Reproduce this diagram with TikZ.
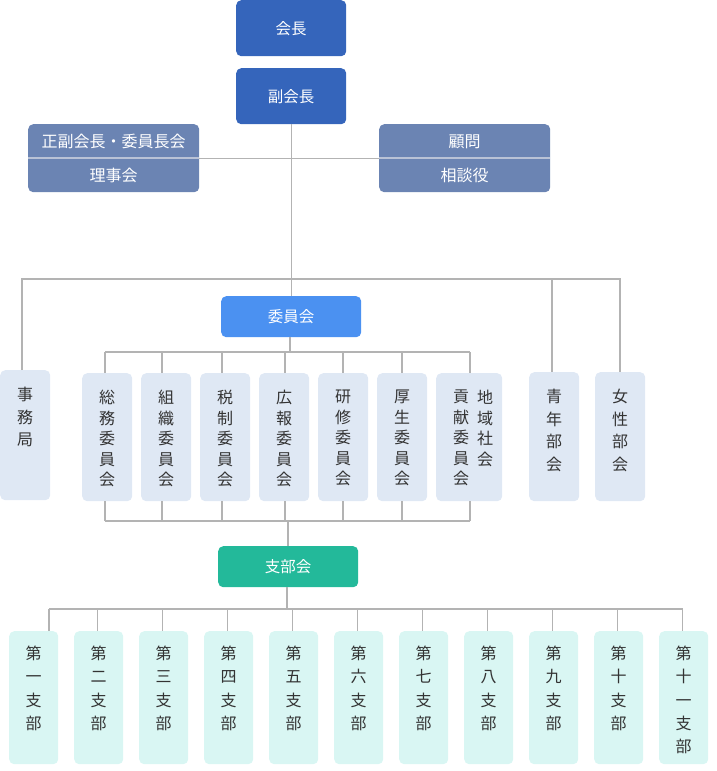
\documentclass[tikz,border=0pt]{standalone}
\usepackage{fontspec}
\setmainfont{Noto Sans CJK JP}
\usetikzlibrary{calc}
\definecolor{darkblue}{HTML}{3565BB}
\definecolor{slate}{HTML}{6B84B3}
\definecolor{midblue}{HTML}{4B91F1}
\definecolor{teal}{HTML}{23B99A}
\definecolor{lightblue}{HTML}{DFE8F4}
\definecolor{lightcyan}{HTML}{D9F6F3}
\definecolor{txt}{HTML}{333333}
\definecolor{linegray}{HTML}{B3B3B3}
\definecolor{divcol}{HTML}{B9C2D6}
\tikzset{
  box/.style={anchor=north west, inner sep=0pt, rounded corners=5pt, draw=none},
  topbox/.style={box, fill=darkblue, text=white, font=\fontsize{15.5}{18}\selectfont},
  sidebox/.style={box, fill=slate},
  sidetext/.style={text=white, inner sep=0pt, font=\fontsize{16}{18}\selectfont},
  colbox/.style={box, fill=lightblue},
  brbox/.style={box, fill=lightcyan},
  vtext/.style={anchor=north, inner sep=0pt, align=center, text=txt, font=\fontsize{16}{20.5}\selectfont},
  vtextw/.style={vtext, font=\fontsize{16}{22.5}\selectfont},
  vtextb/.style={vtext, font=\fontsize{16}{23.2}\selectfont},
  conn/.style={draw=linegray, line width=1.2pt},
  divider/.style={draw=divcol, line width=2pt},
}
\begin{document}
\begin{tikzpicture}[x=1pt,y=-1pt]
\useasboundingbox (0,0) rectangle (716,771);

% top
\node[topbox, minimum width=110pt, minimum height=56pt] (pres) at (236,0) {会長};
\node[topbox, minimum width=110pt, minimum height=56pt] (vp) at (236,68) {副会長};

\node[sidebox, minimum width=171pt, minimum height=68pt] (rj) at (28,124) {};
\node[sidebox, minimum width=171pt, minimum height=68pt] (kn) at (379,124) {};
\draw[divider] (rj.west) -- (rj.east);
\draw[divider] (kn.west) -- (kn.east);
\node[sidetext] (rjt1) at ($(rj.north)!0.26!(rj.south)$) {正副会長・委員長会};
\node[sidetext] (rjt2) at ($(rj.north)!0.75!(rj.south)$) {理事会};
\node[sidetext] (knt1) at ($(kn.north)!0.26!(kn.south)$) {顧問};
\node[sidetext] (knt2) at ($(kn.north)!0.75!(kn.south)$) {相談役};

% committee hub
\node[box, fill=midblue, text=white, font=\fontsize{15.5}{18}\selectfont, minimum width=140pt, minimum height=41pt] (iin) at (221,296) {委員会};

% side boxes
\node[colbox, minimum width=50pt, minimum height=130pt] (jm) at (0,370) {};
\node[vtextw] (jmt) at ($(jm.north)+(0,17)$) {事\\務\\局};
\node[colbox, minimum width=50pt, minimum height=129pt] (sn) at (529,372) {};
\node[vtextw] (snt) at ($(sn.north)+(0,17)$) {青\\年\\部\\会};
\node[colbox, minimum width=50pt, minimum height=129pt] (js) at (595,372) {};
\node[vtextw] (jst) at ($(js.north)+(0,17)$) {女\\性\\部\\会};

% committees
\node[colbox, minimum width=50pt, minimum height=128pt] (c1) at (82,373) {};
\node[colbox, minimum width=50pt, minimum height=128pt] (c2) at (141,373) {};
\node[colbox, minimum width=50pt, minimum height=128pt] (c3) at (200,373) {};
\node[colbox, minimum width=50pt, minimum height=128pt] (c4) at (259,373) {};
\node[colbox, minimum width=50pt, minimum height=128pt] (c5) at (318,373) {};
\node[colbox, minimum width=50pt, minimum height=128pt] (c6) at (377,373) {};
\node[colbox, minimum width=66pt, minimum height=128pt] (c7) at (436,373) {};
\node[vtext] (c1t) at ($(c1.north)+(0,17)$) {総\\務\\委\\員\\会};
\node[vtext] (c2t) at ($(c2.north)+(0,17)$) {組\\織\\委\\員\\会};
\node[vtext] (c3t) at ($(c3.north)+(0,17)$) {税\\制\\委\\員\\会};
\node[vtext] (c4t) at ($(c4.north)+(0,17)$) {広\\報\\委\\員\\会};
\node[vtext] (c5t) at ($(c5.north)+(0,17)$) {研\\修\\委\\員\\会};
\node[vtext] (c6t) at ($(c6.north)+(0,17)$) {厚\\生\\委\\員\\会};
\node[vtext] (c7r) at (485,390) {地\\域\\社\\会};
\node[vtext] (c7l) at (461,390) {貢\\献\\委\\員\\会};

% branch hub
\node[box, fill=teal, text=white, font=\fontsize{15.5}{18}\selectfont, minimum width=140pt, minimum height=41pt] (sb) at (218,546) {支部会};

% branches
\foreach \i/\t in {1/一,2/二,3/三,4/四,5/五,6/六,7/七,8/八,9/九,10/十}{
  \node[brbox, minimum width=49pt, minimum height=133pt] (b\i) at ({9+65*(\i-1)},631) {};
  \node[vtextb] (b\i t) at ($(b\i.north)+(0,15)$) {第\\\t\\支\\部};
}
\node[brbox, minimum width=49pt, minimum height=133pt] (b11) at (659,631) {};
\node[vtextb] (b11t) at ($(b11.north)+(0,15)$) {第\\十\\一\\支\\部};

% connectors top
\draw[conn] (vp.south) -- (iin.north);
\draw[conn] (rj.east) -- (kn.west);
\coordinate (busL) at (22,279);
\coordinate (busR) at (620,279);
\coordinate (busY) at (552,279);
\draw[conn] (busL |- jm.north) -- (busL) -- (busR) -- (busR |- js.north);
\draw[conn] (busY) -- (busY |- sn.north);

% committee connectors
\coordinate (cbusT) at (290,352);
\coordinate (cbusB) at (288,521);
\draw[conn] (iin.south -| cbusT) -- (cbusT);
\foreach \k/\x in {1/105,2/162,3/222,4/285,5/343,6/402,7/470}{
  \coordinate (ct\k) at (\x,352);
  \coordinate (cb\k) at (\x,521);
  \draw[conn] (ct\k) -- (ct\k |- c\k.north);
  \draw[conn] (cb\k) -- (cb\k |- c\k.south);
}
\draw[conn] (ct1) -- (ct7);
\draw[conn] (cb1) -- (cb7);
\draw[conn] (cbusB) -- (cbusB |- sb.north);

% branch connectors
\coordinate (bbus) at (287,609);
\draw[conn] (sb.south -| bbus) -- (bbus);
\coordinate (bt1) at (49,609);
\draw[conn] (bt1) -- (bt1 |- b1.north);
\foreach \i in {2,...,11}{
  \coordinate (bt\i) at ({32.5+65*(\i-1)},609);
  \draw[conn] (bt\i) -- (bt\i |- b\i.north);
}
\draw[conn] (bt1) -- (bt11);
\end{tikzpicture}
\end{document}
